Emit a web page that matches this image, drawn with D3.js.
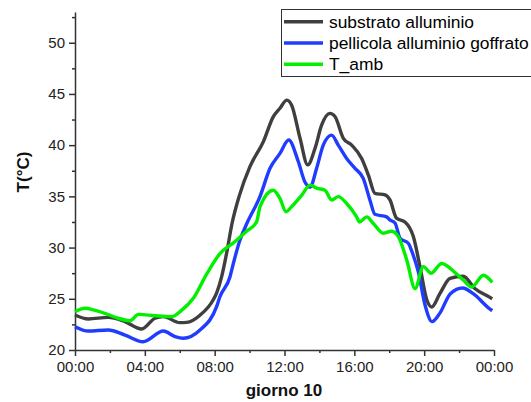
<!DOCTYPE html>
<meta charset="UTF-8">
<style>
    body { margin: 0; background: #fff; }
    .axis path, .axis line { stroke: #333; stroke-width: 1.5px; }
    .axis text { font: 15px "Liberation Sans", Arial, sans-serif; fill: #222; }
    .title { font: bold 17px "Liberation Sans", Arial, sans-serif; fill: #111; }
    .legend text { font: 17.4px "Liberation Sans", Arial, sans-serif; fill: #000; }
    .series { fill: none; stroke-width: 3.4px; stroke-linejoin: round; }
</style>
<body>
<script src="https://d3js.org/d3.v7.min.js"></script>
<script>

// hours of day (giorno 10) and temperatures
var hSub = [0, 0.76, 1.9, 2.86, 3.82, 4.58, 5.06, 6.0, 6.4, 7.16, 7.92, 8.12, 8.4, 8.69, 9.0, 9.4, 10.02, 10.79, 11.36, 11.74, 12.13, 12.41, 12.89, 13.33, 13.75, 14.13, 14.6, 14.89, 15.37, 15.85, 16.42, 16.8, 17.18, 17.76, 18.04, 18.42, 18.9, 19.38, 19.76, 20.15, 20.43, 20.9, 21.48, 22.24, 22.9, 23.77, 23.9];
var tSub = [23.42, 23.03, 23.19, 22.77, 22.05, 23.1, 23.26, 22.67, 22.7, 23.4, 24.9, 25.6, 27.16, 29.5, 32.4, 35.0, 37.9, 40.34, 42.78, 43.6, 44.4, 43.9, 40.67, 38.07, 39.7, 41.97, 43.1, 42.8, 40.67, 40.0, 38.7, 37.1, 35.3, 35.14, 34.65, 32.86, 32.5, 31.07, 28.14, 24.9, 24.2, 25.5, 27.0, 27.2, 26.0, 25.14, 25.0];

var hPel = [0, 0.76, 1.9, 2.86, 3.9, 5.06, 5.73, 6.2, 7.16, 8.11, 8.3, 8.88, 9.07, 9.45, 9.83, 10.6, 11.17, 11.74, 12.24, 12.79, 13.17, 13.46, 13.84, 14.22, 14.7, 15.08, 15.56, 16.04, 16.51, 16.9, 17.18, 17.85, 18.04, 18.33, 18.62, 19.1, 19.3, 19.67, 20.05, 20.45, 20.9, 21.5, 22.2, 22.81, 23.77, 23.9];
var tPel = [22.28, 21.85, 21.95, 21.46, 20.81, 21.85, 21.3, 21.14, 21.95, 24.23, 25.2, 27.16, 28.45, 30.74, 32.3, 35.0, 37.74, 39.2, 40.5, 38.4, 36.4, 35.9, 37.74, 40.0, 40.98, 40.0, 38.7, 37.74, 36.76, 34.6, 33.25, 33.0, 32.7, 32.4, 30.9, 30.4, 29.6, 27.6, 24.4, 22.77, 23.6, 25.5, 26.05, 25.5, 24.0, 23.85];

var hAmb = [0, 0.57, 1.1, 1.72, 2.48, 3.15, 3.63, 4.58, 5.54, 6.05, 6.8, 7.54, 8.3, 9.1, 9.83, 10.4, 10.6, 11.36, 11.74, 12.09, 12.41, 12.98, 13.46, 13.84, 14.32, 14.7, 15.08, 15.56, 16.13, 16.3, 16.71, 17.08, 17.66, 18.14, 18.52, 19.0, 19.48, 19.95, 20.4, 21.0, 21.8, 22.24, 22.72, 23.39, 23.9];
var tAmb = [23.74, 24.07, 23.9, 23.58, 23.1, 22.86, 23.48, 23.35, 23.26, 23.8, 25.1, 27.4, 29.4, 30.5, 31.6, 32.5, 34.0, 35.6, 34.8, 33.5, 34.0, 35.1, 36.1, 35.8, 35.6, 34.65, 34.97, 34.3, 33.0, 32.5, 33.0, 32.37, 31.4, 31.6, 31.07, 28.8, 26.0, 28.14, 27.5, 28.45, 27.5, 26.84, 26.15, 27.3, 26.6];

var seriesNames = ["substrato alluminio", "pellicola alluminio goffrato", "T_amb"];
var seriesColors = ["#3f3f3f", "#1f3cff", "#00f000"];
var xTicks = [0, 4, 8, 12, 16, 20, 24];
var yTicks = [20, 25, 30, 35, 40, 45, 50];

var width = 531, height = 402;
var margin = {top: 12, right: 37, bottom: 52, left: 75};

var svg = d3.select("body").append("svg")
    .attr("width", width)
    .attr("height", height);

var x = d3.scaleLinear().domain([0, 24]).range([margin.left, width - margin.right]);
var y = d3.scaleLinear().domain([20, 53]).range([height - margin.bottom, margin.top]);

function fmtHour(h) {
  return (h % 24 < 10 ? "0" : "") + (h % 24) + ":00";
}

// minor ticks first, then the labelled axes on top
svg.append("g")
    .attr("class", "axis")
    .attr("transform", "translate(0," + y(20) + ")")
    .call(d3.axisBottom(x).tickValues(d3.range(2, 24, 4)).tickSize(3).tickFormat(""))
    .select(".domain").remove();

svg.append("g")
    .attr("class", "axis")
    .attr("transform", "translate(" + x(0) + ",0)")
    .call(d3.axisLeft(y).tickValues(d3.range(22.5, 53, 5)).tickSize(3).tickFormat(""))
    .select(".domain").remove();

svg.append("g")
    .attr("class", "axis")
    .attr("transform", "translate(0," + y(20) + ")")
    .call(d3.axisBottom(x).tickValues(xTicks).tickSize(6).tickSizeOuter(0).tickPadding(5).tickFormat(fmtHour));

svg.append("g")
    .attr("class", "axis")
    .attr("transform", "translate(" + x(0) + ",0)")
    .call(d3.axisLeft(y).tickValues(yTicks).tickSize(6).tickSizeOuter(0).tickPadding(4));

// axis titles
svg.append("text")
    .attr("class", "title")
    .attr("text-anchor", "middle")
    .attr("x", 284)
    .attr("y", 396)
    .text("giorno 10");

svg.append("text")
    .attr("class", "title")
    .attr("text-anchor", "middle")
    .attr("transform", "translate(29,172) rotate(-90)")
    .text("T(°C)");

// lines
var line = d3.line()
    .x(function(d) { return x(d[0]); })
    .y(function(d) { return y(d[1]); })
    .curve(d3.curveMonotoneX);

var series = [d3.zip(hSub, tSub), d3.zip(hPel, tPel), d3.zip(hAmb, tAmb)];

series.forEach(function(s, i) {
  svg.append("path")
      .attr("class", "series")
      .attr("stroke", seriesColors[i])
      .attr("d", line(s));
});

// legend
var legend = svg.append("g").attr("class", "legend");

legend.append("rect")
    .attr("x", 281.5)
    .attr("y", 9.5)
    .attr("width", 260)
    .attr("height", 67)
    .attr("fill", "#fff")
    .attr("stroke", "#333")
    .attr("stroke-width", 1);

seriesNames.forEach(function(name, i) {
  var ly = 21.7 + i * 21.3;
  legend.append("line")
      .attr("x1", 284).attr("x2", 323)
      .attr("y1", ly).attr("y2", ly)
      .attr("stroke", seriesColors[i])
      .attr("stroke-width", 3.4);
  legend.append("text")
      .attr("x", 329)
      .attr("y", ly + 6)
      .text(name);
});

</script>
</body>
